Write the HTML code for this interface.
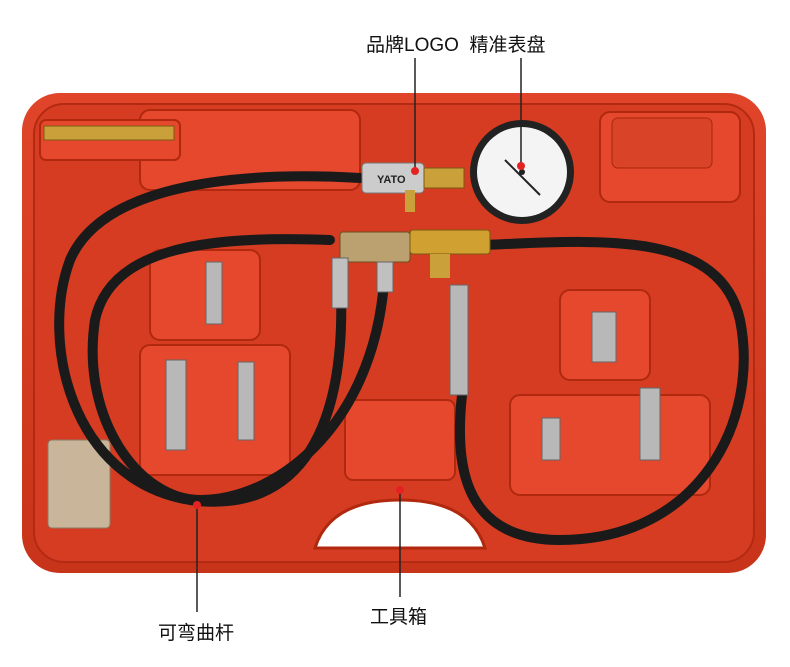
<!DOCTYPE html>
<html><head><meta charset="utf-8">
<style>
html,body{margin:0;padding:0;background:#fff;}
body{width:790px;height:667px;overflow:hidden;position:relative;font-family:"Liberation Sans","Noto Sans CJK SC",sans-serif;}
.lbl{position:absolute;font-size:19px;color:#111;white-space:nowrap;}
</style></head><body>
<svg width="790" height="667" style="position:absolute;left:0;top:0">
<defs>
<linearGradient id="cg" x1="0" y1="0" x2="0" y2="1">
<stop offset="0" stop-color="#e0452a"/><stop offset="1" stop-color="#c83419"/>
</linearGradient>
</defs>
<!-- case -->
<rect x="22" y="93" width="744" height="480" rx="38" fill="url(#cg)"/>
<rect x="34" y="104" width="720" height="458" rx="30" fill="#d63c22" stroke="#b32a12" stroke-width="2"/>
<!-- compartments -->
<g fill="#e5482d" stroke="#b0290f" stroke-width="2">
<rect x="140" y="110" width="220" height="80" rx="10"/>
<rect x="600" y="112" width="140" height="90" rx="10"/>
<rect x="150" y="250" width="110" height="90" rx="10"/>
<rect x="140" y="345" width="150" height="130" rx="10"/>
<rect x="560" y="290" width="90" height="90" rx="10"/>
<rect x="510" y="395" width="200" height="100" rx="10"/>
<rect x="345" y="400" width="110" height="80" rx="8"/>
<rect x="40" y="120" width="140" height="40" rx="6"/>
</g>
<!-- handle -->
<path d="M315 548 Q330 500 400 500 Q470 500 485 548 Z" fill="#fff" stroke="#b0290f" stroke-width="3"/>
<!-- small bag -->
<rect x="48" y="440" width="62" height="88" rx="4" fill="#c9b59a" stroke="#8a7a66"/>
<!-- hoses -->
<g fill="none" stroke="#1a1a1a" stroke-width="10" stroke-linecap="round">
<path d="M360 178 C220 170 100 190 70 260 C40 340 70 480 190 500 C300 515 350 430 340 270"/>
<path d="M330 240 C200 235 110 250 95 320 C80 420 140 500 200 500 C280 500 380 420 385 265"/>
<path d="M485 245 C600 240 720 230 740 320 C760 420 700 540 560 540 C460 540 455 460 462 395"/>
</g>
<!-- fittings -->
<g>
<rect x="362" y="163" width="62" height="30" rx="4" fill="#ccc" stroke="#777"/>
<text x="377" y="183" font-size="11" font-weight="bold" fill="#222" font-family="Liberation Sans">YATO</text>
<rect x="424" y="168" width="40" height="20" fill="#c9a03a" stroke="#7a5a10"/>
<rect x="405" y="190" width="10" height="22" fill="#c9a03a"/>
<rect x="340" y="232" width="70" height="30" rx="3" fill="#bba070" stroke="#6a5020"/>
<rect x="410" y="230" width="80" height="24" rx="3" fill="#d0a030" stroke="#7a5a10"/>
<rect x="430" y="254" width="20" height="24" fill="#c9a03a"/>
<rect x="450" y="285" width="18" height="110" fill="#b8b8b8" stroke="#666"/>
<rect x="332" y="258" width="16" height="50" fill="#c0c0c0" stroke="#666"/>
<rect x="377" y="262" width="16" height="30" fill="#c0c0c0" stroke="#666"/>
<rect x="44" y="126" width="130" height="14" fill="#c9a03a" stroke="#7a5a10"/>
<rect x="206" y="262" width="16" height="62" fill="#b8b8b8" stroke="#666"/>
<rect x="166" y="360" width="20" height="90" fill="#b8b8b8" stroke="#666"/>
<rect x="238" y="362" width="16" height="78" fill="#b8b8b8" stroke="#666"/>
<rect x="592" y="312" width="24" height="50" fill="#b8b8b8" stroke="#666"/>
<rect x="542" y="418" width="18" height="42" fill="#b8b8b8" stroke="#666"/>
<rect x="640" y="388" width="20" height="72" fill="#b8b8b8" stroke="#666"/>
<rect x="612" y="118" width="100" height="50" rx="6" fill="#d94328" stroke="#a8260d"/>
</g>
<!-- gauge -->
<circle cx="522" cy="172" r="52" fill="#222"/>
<circle cx="522" cy="172" r="45" fill="#f4f4f4"/>
<line x1="505" y1="160" x2="540" y2="195" stroke="#222" stroke-width="2"/>
<circle cx="522" cy="172" r="3" fill="#222"/>
<!-- leader lines -->
<g stroke="#222" stroke-width="1.5">
<line x1="415" y1="58" x2="415" y2="170"/>
<line x1="521" y1="58" x2="521" y2="165"/>
<line x1="197" y1="505" x2="197" y2="612"/>
<line x1="400" y1="490" x2="400" y2="597"/>
</g>
<g fill="#e52222">
<circle cx="415" cy="171" r="4"/><circle cx="521" cy="166" r="4"/>
<circle cx="197" cy="505" r="4"/><circle cx="400" cy="490" r="4"/>
</g>
</svg>
<div class="lbl" style="left:366px;top:30px">品牌LOGO&nbsp; 精准表盘</div>
<div class="lbl" style="left:158px;top:618px">可弯曲杆</div>
<div class="lbl" style="left:370px;top:602px">工具箱</div>
</body></html>
